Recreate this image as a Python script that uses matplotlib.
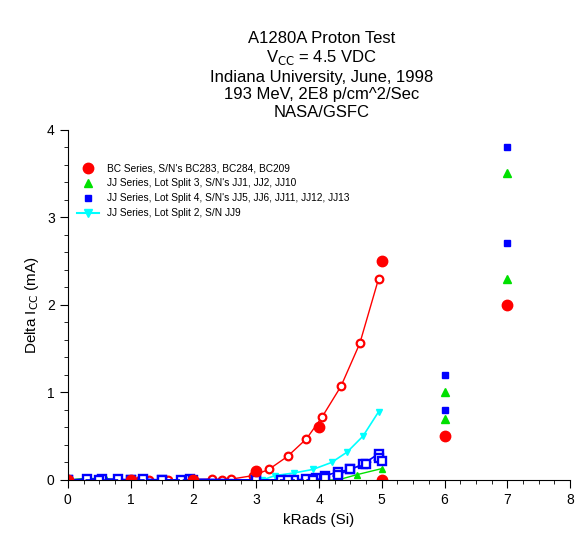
import numpy as np
import matplotlib.pyplot as plt
from matplotlib.ticker import MultipleLocator

plt.rcParams['font.family'] = ['Liberation Sans', 'DejaVu Sans']

# BC series filled markers
bc_x = [0, 1, 2, 3, 4, 5, 5, 6, 7]
bc_y = [0, 0, 0, 0.1, 0.6, 2.5, 0.0, 0.5, 2.0]
# BC series detailed curve
bcc_x = [0, 0.3, 0.55, 0.8, 1.15, 1.3, 1.6, 1.8, 1.9, 2.3, 2.45, 2.6, 2.95, 3.2, 3.5, 3.8, 4.05, 4.35, 4.65, 4.95]
bcc_y = [0, 0, 0, 0, 0, 0, 0, 0, 0, 0.01, 0, 0.01, 0.05, 0.12, 0.27, 0.47, 0.72, 1.07, 1.56, 2.3]
# JJ lot split 3
g_x = [0, 0.3, 0.6, 1.0, 2.0, 3.0, 4.0, 4.3, 4.6, 5.0, 6, 6, 7, 7]
g_y = [0, 0.02, 0.01, 0, 0, 0, 0, 0.0, 0.06, 0.13, 1.0, 0.7, 3.5, 2.3]
# JJ lot split 4 (two curves)
b1_x = [0, 0.3, 0.55, 0.8, 1.0, 1.2, 1.5, 1.8, 1.95, 3.0, 3.4, 3.6, 3.8, 3.95, 4.1, 4.3, 4.5, 4.7, 4.95]
b1_y = [0, 0.01, 0.01, 0.01, 0, 0.01, 0, 0, 0.01, 0, 0.0, 0.0, 0.01, 0.02, 0.05, 0.09, 0.12, 0.18, 0.3]
b2_x = [0, 0.5, 1.0, 1.5, 2.0, 3.0, 3.5, 3.9, 4.1, 4.3, 4.5, 4.75, 4.95, 5.0]
b2_y = [0, 0, 0, 0, 0, 0, 0, 0, 0.02, 0.06, 0.12, 0.18, 0.25, 0.22]
b_pts_x = [6, 6, 7, 7]
b_pts_y = [1.2, 0.8, 3.8, 2.7]
# JJ lot split 2
c_x = [3.1, 3.3, 3.6, 3.9, 4.2, 4.45, 4.7, 4.95]
c_y = [0.0, 0.05, 0.08, 0.12, 0.2, 0.32, 0.5, 0.78]

fig = plt.figure(figsize=(5.8, 5.39), dpi=100)
ax = fig.add_axes([0.117, 0.1095, 0.866, 0.65])

ax.plot(bcc_x, bcc_y, '-', color='red', lw=1, marker='o', ms=5.5, mfc='white', mec='red', mew=1.6)
ax.plot(c_x, c_y, '-', color='cyan', lw=1.2, marker='v', ms=5)
ax.plot(g_x[:10], g_y[:10], '-', color='#00e000', lw=1, marker='^', ms=4)
ax.plot(b1_x, b1_y, '-', color='blue', lw=1.2, marker='s', ms=5.5, mfc='white', mec='blue', mew=1.7)
ax.plot(b2_x, b2_y, '--', color='blue', lw=1.2, marker='s', ms=5.5, mfc='white', mec='blue', mew=1.7)
ax.plot(bc_x, bc_y, 'o', color='red', ms=7.5, label="BC Series, S/N's BC283, BC284, BC209")
ax.plot(g_x[10:], g_y[10:], '^', color='#00e000', ms=6, label="JJ Series, Lot Split 3, S/N's JJ1, JJ2, JJ10")
ax.plot(b_pts_x, b_pts_y, 's', color='blue', ms=5, label="JJ Series, Lot Split 4, S/N's JJ5, JJ6, JJ11, JJ12, JJ13")
ax.plot([], [], '-v', color='cyan', ms=6, label="JJ Series, Lot Split 2, S/N JJ9")

ax.set_xlim(0, 8)
ax.set_ylim(0, 4)
ax.xaxis.set_major_locator(MultipleLocator(1))
ax.xaxis.set_minor_locator(MultipleLocator(0.25))
ax.yaxis.set_major_locator(MultipleLocator(1))
ax.yaxis.set_minor_locator(MultipleLocator(0.2))
ax.tick_params(which='major', length=6, labelsize=10)
ax.tick_params(which='minor', length=3)
ax.spines['top'].set_visible(False)
ax.spines['right'].set_visible(False)
ax.set_xlabel('kRads (Si)', fontsize=11)
ax.set_ylabel('Delta I$_{\\rm CC}$ (mA)', fontsize=11)
ax.legend(loc='upper left', bbox_to_anchor=(0.0, 0.93), frameon=False, fontsize=7.3, handlelength=2.2, labelspacing=0.5)

fig.text(0.555, 0.778, 'A1280A Proton Test\nV$_{\\rm CC}$ = 4.5 VDC\nIndiana University, June, 1998\n193 MeV, 2E8 p/cm^2/Sec\nNASA/GSFC',
         ha='center', va='bottom', fontsize=12, linespacing=1.2)

fig.savefig('out.png')
